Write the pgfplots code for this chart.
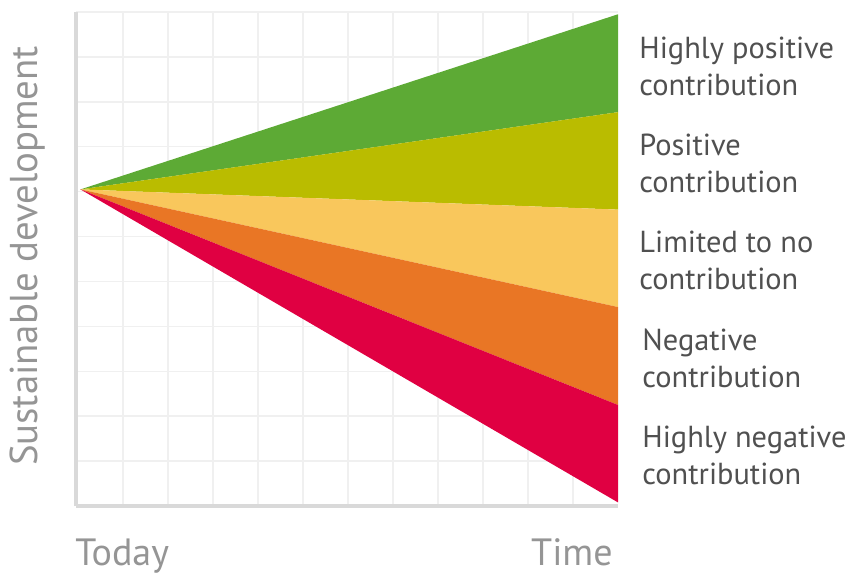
\documentclass[border=0pt]{standalone}
\usepackage{pgfplots}
\pgfplotsset{compat=1.18}
\usepackage{fontspec}
\setmainfont{PT Sans}
\definecolor{cgreen}{HTML}{5DAA35}
\definecolor{colive}{HTML}{BABC00}
\definecolor{cyellow}{HTML}{F9C75C}
\definecolor{corange}{HTML}{E97625}
\definecolor{cred}{HTML}{E00042}
\definecolor{labdark}{HTML}{505050}
\definecolor{labgrey}{HTML}{959595}
\begin{document}
\begin{tikzpicture}
\path (0,0) rectangle (425pt,-284pt);
\begin{axis}[
  at={(38pt,-253pt)}, anchor=south west,
  width=271pt, height=247pt, scale only axis,
  xmin=-0.05, xmax=12, ymin=0, ymax=11,
  axis x line=bottom, axis y line=left,
  axis line style={draw=black!15, line width=2pt, -},
  xtick={1,...,11}, ytick={1,...,11},
  xticklabels={}, yticklabels={},
  major tick length=0pt,
  grid=major,
  major grid style={draw=black!6, line width=0.75pt},
]
\addplot[fill=cgreen, draw=none] coordinates {(0.05,7.05) (12,10.95) (12,8.77)};
\addplot[fill=colive, draw=none] coordinates {(0.05,7.05) (12,8.77) (12,6.6)};
\addplot[fill=cyellow, draw=none] coordinates {(0.05,7.05) (12,6.6) (12,4.43)};
\addplot[fill=corange, draw=none] coordinates {(0.05,7.05) (12,4.43) (12,2.25)};
\addplot[fill=cred, draw=none] coordinates {(0.05,7.05) (12,2.25) (12,0.08)};
\end{axis}
\begin{scope}[every node/.style={inner sep=0pt, align=left, anchor=west, text=labdark,
    font=\fontsize{15.2}{18.5}\selectfont}]
\node at (319.5pt,-33pt) {Highly positive\\contribution};
\node at (319.5pt,-81.5pt) {Positive\\contribution};
\node at (319.5pt,-130pt) {Limited to no\\contribution};
\node at (321pt,-179pt) {Negative\\contribution};
\node at (321pt,-227.5pt) {Highly negative\\contribution};
\end{scope}
\node[rotate=90, inner sep=0pt, text=labgrey, font=\fontsize{19.4}{22}\selectfont] at (14pt,-128pt) {Sustainable development};
\node[anchor=base west, inner sep=0pt, text=labgrey, font=\fontsize{19}{22}\selectfont] at (37.5pt,-282.5pt) {Today};
\node[anchor=base east, inner sep=0pt, text=labgrey, font=\fontsize{19}{22}\selectfont] at (306.5pt,-282.5pt) {Time};
\end{tikzpicture}
\end{document}
